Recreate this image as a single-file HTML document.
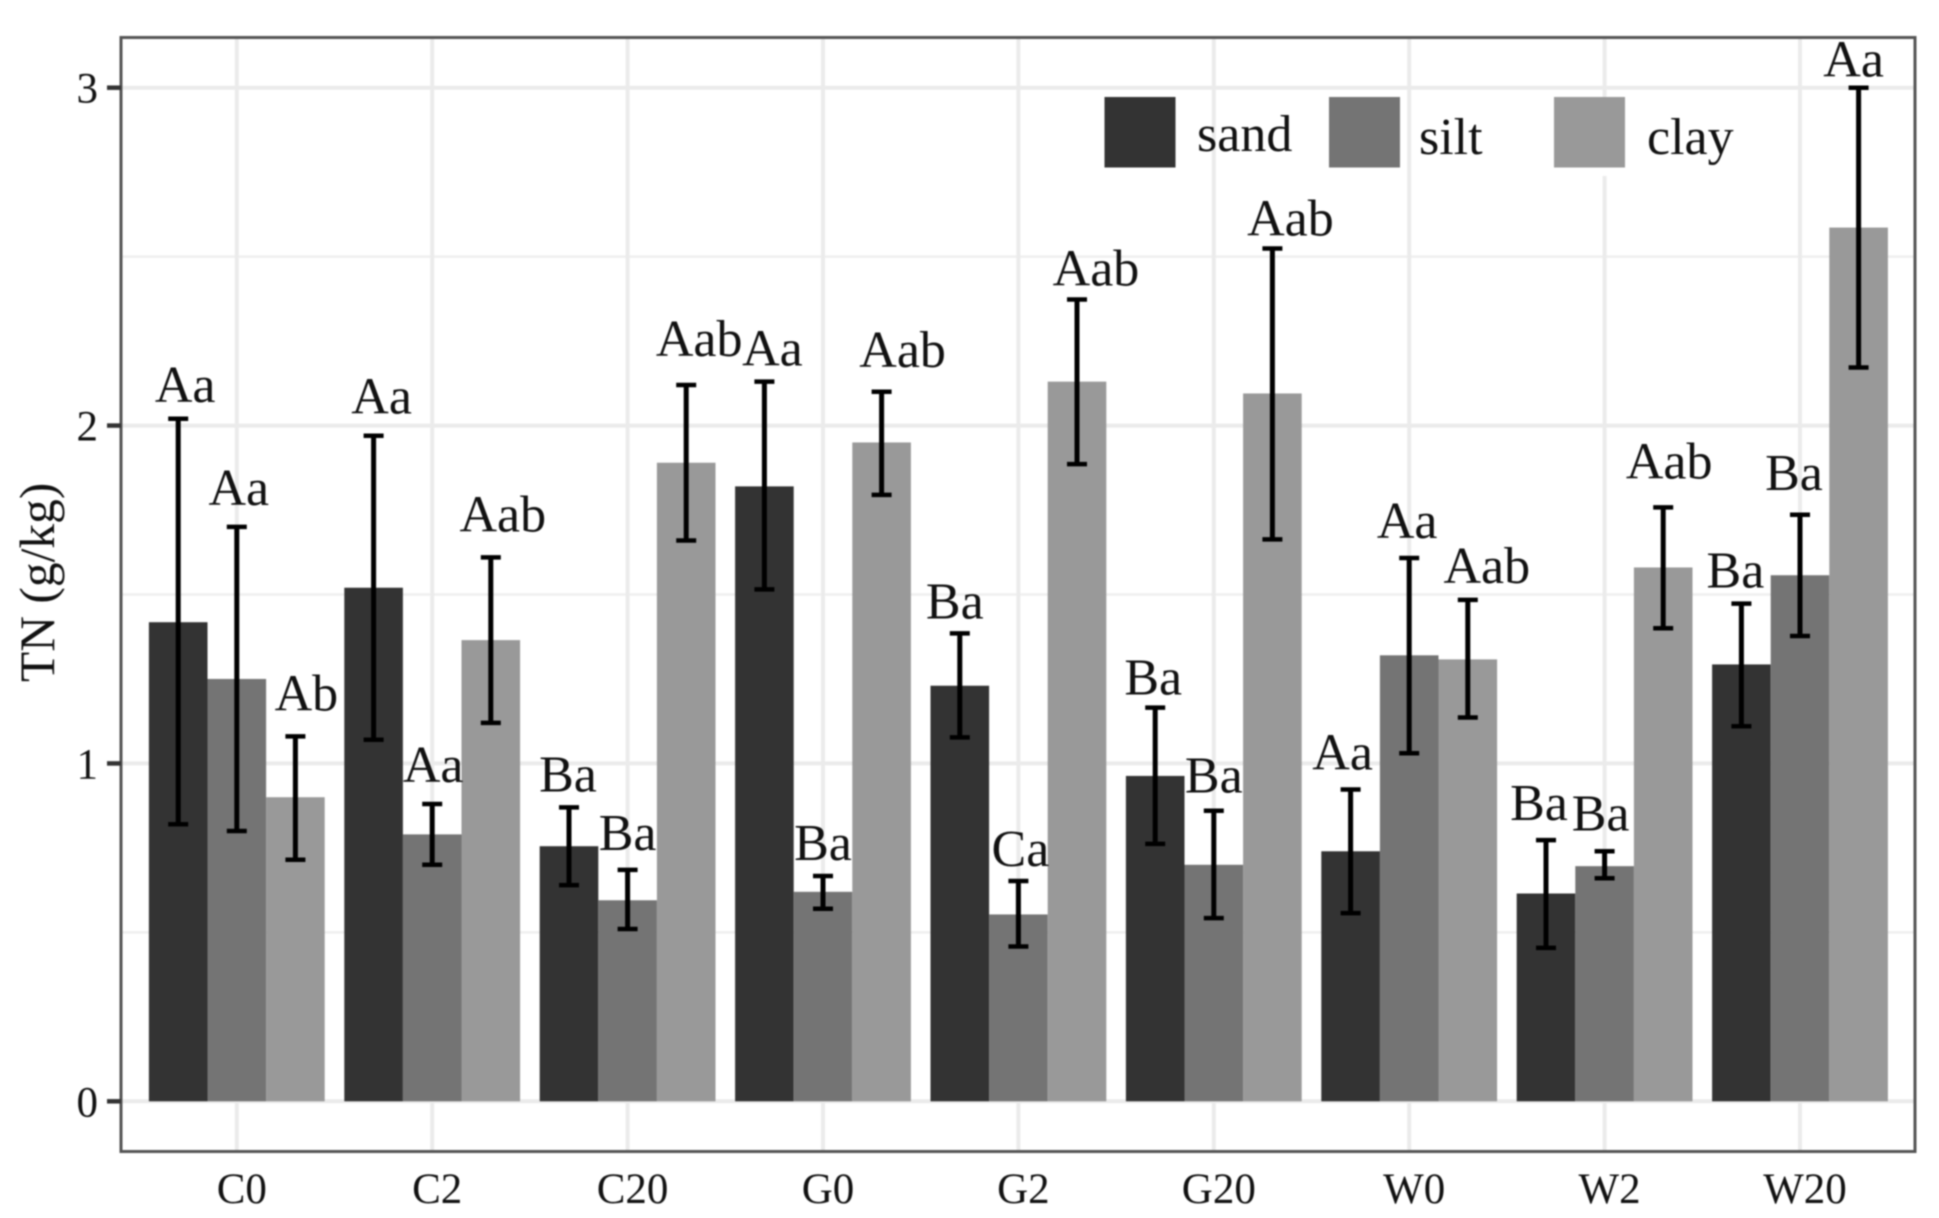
<!DOCTYPE html>
<html lang="en">
<head>
<meta charset="utf-8">
<title>TN by particle size</title>
<style>
html,body{margin:0;padding:0;background:#fff;width:1939px;height:1218px;overflow:hidden}
svg{display:block;filter:blur(0.7px)}
text{font-family:"Liberation Serif",serif;fill:#111}
</style>
</head>
<body>
<svg id="chart" xmlns="http://www.w3.org/2000/svg" width="1939" height="1218" viewBox="0 0 1939 1218">
<rect x="0" y="0" width="1939" height="1218" fill="#fff"/>
<g id="grid"></g>
<g id="bars"></g>
<g id="errs"></g>
<g id="labels"></g>
<rect x="121" y="37.5" width="1794" height="1114" fill="none" stroke="#555" stroke-width="3"/>
<g id="yaxis"></g>
<g id="xaxis"></g>
<text transform="translate(54,682) rotate(-90)" font-size="49.5">TN (g/kg)</text>
<g>
<rect x="1596" y="166" width="18" height="10" fill="#fff"/>
<rect x="1104.5" y="97" width="71" height="70.5" fill="#333333"/>
<text x="1197" y="151" font-size="52">sand</text>
<rect x="1329" y="97" width="71" height="70.5" fill="#747474"/>
<text x="1419" y="154" font-size="52">silt</text>
<rect x="1554" y="97" width="71" height="70.5" fill="#999999"/>
<text x="1647" y="154" font-size="52">clay</text>
</g>
</svg>
<script>
const categories = ["C0","C2","C20","G0","G2","G20","W0","W2","W20"];
const seriesNames = ["sand","silt","clay"];
const sandValues = [1.418,1.52,0.755,1.82,1.23,0.963,0.74,0.615,1.293];
const siltValues = [1.25,0.79,0.595,0.62,0.553,0.70,1.32,0.696,1.557];
const clayValues = [0.90,1.365,1.89,1.95,2.13,2.095,1.308,1.58,2.586];
const sandUpper = [2.02,1.97,0.87,2.13,1.385,1.165,0.923,0.773,1.473];
const sandLower = [0.82,1.07,0.64,1.515,1.077,0.762,0.557,0.454,1.11];
const siltUpper = [1.70,0.88,0.685,0.667,0.652,0.86,1.608,0.74,1.736];
const siltLower = [0.80,0.70,0.51,0.57,0.458,0.542,1.03,0.66,1.377];
const clayUpper = [1.08,1.61,2.12,2.10,2.373,2.524,1.484,1.758,3.0];
const clayLower = [0.715,1.12,1.66,1.795,1.886,1.663,1.136,1.40,2.172];
const sandLetters = ["Aa","Aa","Ba","Aa","Ba","Ba","Aa","Ba","Ba"];
const siltLetters = ["Aa","Aa","Ba","Ba","Ca","Ba","Aa","Ba","Ba"];
const clayLetters = ["Ab","Aab","Aab","Aab","Aab","Aab","Aab","Aab","Aa"];
const yTickLabels = [0,1,2,3];
const yMinorTicks = [0.5,1.5,2.5];

const NS = "http://www.w3.org/2000/svg";
const y0px = 1101.3, y3px = 87.7, cx0 = 236.8, step = 195.4, barW = 58.6;
function yScale(v){ return y0px + (y3px - y0px) * v / 3; }
function xScale(i){ return cx0 + step * i; }
function seriesX(i, s){ return xScale(i) + (s - 1) * barW; }
function make(tag, attrs, parent){
  const el = document.createElementNS(NS, tag);
  for (const k in attrs) el.setAttribute(k, attrs[k]);
  parent.appendChild(el);
  return el;
}
const gridG = document.getElementById("grid");
const barsG = document.getElementById("bars");
const errsG = document.getElementById("errs");
const labelsG = document.getElementById("labels");
const yaxisG = document.getElementById("yaxis");
const xaxisG = document.getElementById("xaxis");

const values = [sandValues, siltValues, clayValues];
const uppers = [sandUpper, siltUpper, clayUpper];
const lowers = [sandLower, siltLower, clayLower];
const letters = [sandLetters, siltLetters, clayLetters];
const fills = ["#333333","#747474","#999999"];

/* hand-placed annotation nudges (layout only, applied relative to each error bar) */
const nudgeX = [[7,8,-1,8,-5,-2,-8,-7,-6],[2,1,0,0,2,0,-2,-4,-6],[11,12,13,21,19,18,19,6,-5]];
const nudgeY = [[17,22,16,16,15,13,20,20,16],[22,22,20,16,15,18,20,21,25],[26,26,29,25,14,13,17,29,11]];

yMinorTicks.forEach(function(v){
  const ln = make("line",{x1:122,x2:1914,y1:yScale(v),y2:yScale(v),stroke:"#efefef","stroke-width":2.5},gridG);
  
  
});
yTickLabels.forEach(function(v){
  const ln = make("line",{x1:122,x2:1914,y1:yScale(v),y2:yScale(v),stroke:"#ebebeb","stroke-width":4},gridG);
  
  
  const tick = make("line",{x1:107,x2:121,y1:yScale(v),y2:yScale(v),stroke:"#333","stroke-width":4.5},yaxisG);
  
  
  const t = make("text",{x:98,y:yScale(v)+15,"text-anchor":"end","font-size":43},yaxisG);
  
  
  t.textContent = v;
});
categories.forEach(function(c,i){
  const ln = make("line",{x1:xScale(i),x2:xScale(i),y1:39,y2:1150,stroke:"#ebebeb","stroke-width":4},gridG);
  
  
  const t = make("text",{x:xScale(i)+5,y:1203,"text-anchor":"middle","font-size":43},xaxisG);
  
  
  t.textContent = c;
});
values.forEach(function(arr,s){
  arr.forEach(function(v,i){
    const cx = seriesX(i,s);
    const r = make("rect",{x:cx-barW/2,y:yScale(v),width:barW,height:yScale(0)-yScale(v),fill:fills[s]},barsG);
    
    
  });
});
values.forEach(function(arr,s){
  arr.forEach(function(v,i){
    const cx = seriesX(i,s);
    const yu = yScale(uppers[s][i]), yl = yScale(lowers[s][i]);
    const g = make("g",{},errsG);
    
    
    make("line",{x1:cx,x2:cx,y1:yu,y2:yl,stroke:"#000","stroke-width":5},g);
    make("line",{x1:cx-10,x2:cx+10,y1:yu,y2:yu,stroke:"#000","stroke-width":4.5},g);
    make("line",{x1:cx-10,x2:cx+10,y1:yl,y2:yl,stroke:"#000","stroke-width":4.5},g);
    const t = make("text",{x:cx+nudgeX[s][i],y:yu-nudgeY[s][i],"text-anchor":"middle","font-size":52},labelsG);
    
    
    t.textContent = letters[s][i];
  });
});
</script>
</body>
</html>
